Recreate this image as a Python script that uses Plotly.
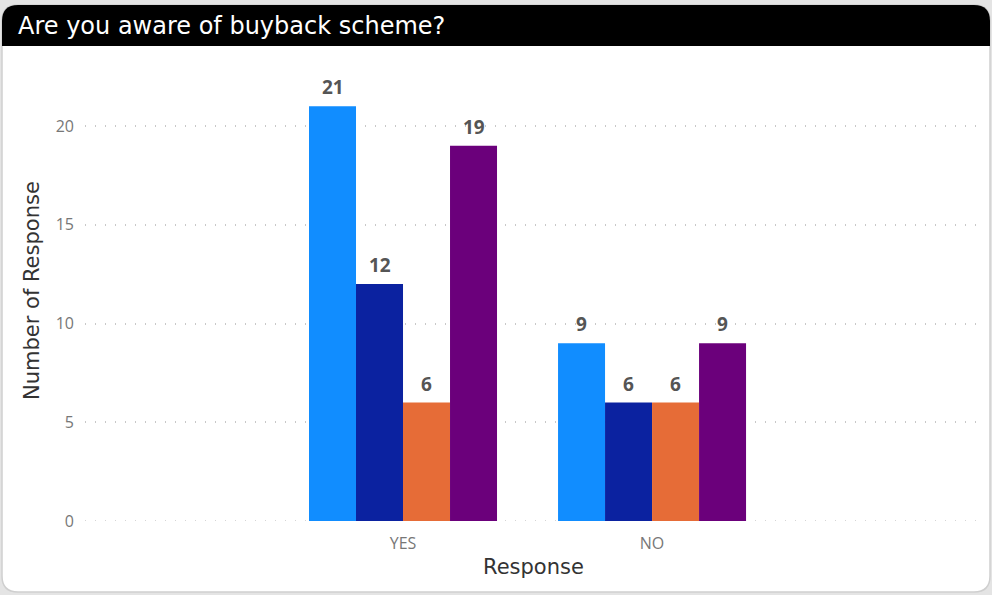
import plotly.graph_objects as go

categories = ["YES", "NO"]
series_names = ["Series 1", "Series 2", "Series 3", "Series 4"]
series_values = [
    [21, 9],
    [12, 6],
    [6, 6],
    [19, 9],
]
series_colors = ["#118DFF", "#0B22A0", "#E66C37", "#6B007B"]
y_ticks = [0, 5, 10, 15, 20]

W, H = 992, 595
BARGAP = 0.245

def px_x(x):
    return x / W

def px_y(y):
    return 1 - y / H

fig = go.Figure()
n = len(series_values)
bw = (1 - BARGAP) / n
for j, (name, vals, col) in enumerate(zip(series_names, series_values, series_colors)):
    fig.add_trace(go.Bar(
        x=categories, y=vals, name=name,
        marker=dict(color=col, line=dict(width=0)),
        hoverinfo="x+y+name",
    ))
    for i, v in enumerate(vals):
        fig.add_annotation(
            x=i + (j - (n - 1) / 2) * bw, y=v, xref="x", yref="y",
            text=str(v), showarrow=False, yanchor="middle", yshift=19,
            font=dict(family="Open Sans", size=19, color="#555555", weight="bold"),
        )

# card and title bar shapes
r = 16
x0, x1 = 2, 990
ty0, ty1 = 5, 46
cy1 = 592
card_path = (
    f"M {px_x(x0)},{px_y(ty0 + r)} "
    f"Q {px_x(x0)},{px_y(ty0)} {px_x(x0 + r)},{px_y(ty0)} "
    f"L {px_x(x1 - r)},{px_y(ty0)} "
    f"Q {px_x(x1)},{px_y(ty0)} {px_x(x1)},{px_y(ty0 + r)} "
    f"L {px_x(x1)},{px_y(cy1 - r)} "
    f"Q {px_x(x1)},{px_y(cy1)} {px_x(x1 - r)},{px_y(cy1)} "
    f"L {px_x(x0 + r)},{px_y(cy1)} "
    f"Q {px_x(x0)},{px_y(cy1)} {px_x(x0)},{px_y(cy1 - r)} Z"
)
title_path = (
    f"M {px_x(x0)},{px_y(ty0 + r)} "
    f"Q {px_x(x0)},{px_y(ty0)} {px_x(x0 + r)},{px_y(ty0)} "
    f"L {px_x(x1 - r)},{px_y(ty0)} "
    f"Q {px_x(x1)},{px_y(ty0)} {px_x(x1)},{px_y(ty0 + r)} "
    f"L {px_x(x1)},{px_y(ty1)} L {px_x(x0)},{px_y(ty1)} Z"
)
fig.add_shape(type="path", path=card_path, xref="paper", yref="paper",
              fillcolor="white", line=dict(color="#cfcfcf", width=1.5), layer="below")
fig.add_shape(type="path", path=title_path, xref="paper", yref="paper",
              fillcolor="black", line=dict(color="black", width=0), layer="below")
# dotted baseline at zero
fig.add_shape(type="line", xref="paper", yref="y", x0=px_x(85), x1=px_x(985), y0=0, y1=0,
              line=dict(color="#c8c8c8", width=1.5, dash="1px,9px"), layer="below")

fig.add_annotation(text="Are you aware of buyback scheme?", xref="paper", yref="paper",
                   x=px_x(16), y=px_y(26), xanchor="left", yanchor="middle",
                   showarrow=False, font=dict(family="DejaVu Sans", size=24, color="white"))
# axis titles
fig.add_annotation(text="Number of Response", xref="paper", yref="paper",
                   x=px_x(32), y=px_y(291), xanchor="center", yanchor="middle", textangle=-90,
                   showarrow=False, font=dict(family="DejaVu Sans", size=21, color="#333333"))
fig.add_annotation(text="Response", xref="paper", yref="paper",
                   x=px_x(533), y=px_y(567), xanchor="center", yanchor="middle",
                   showarrow=False, font=dict(family="DejaVu Sans", size=21, color="#333333"))

fig.update_layout(
    width=W, height=H,
    margin=dict(l=0, r=0, t=0, b=0),
    paper_bgcolor="#e4e4e4",
    plot_bgcolor="rgba(0,0,0,0)",
    showlegend=False,
    barmode="group",
    bargap=BARGAP,
    bargroupgap=0,
    xaxis=dict(
        domain=[px_x(85), px_x(985)],
        range=[-1.277, 2.337],
        showgrid=False, zeroline=False, showline=False,
        ticks="", ticklabelstandoff=11,
        tickfont=dict(family="Open Sans", size=16, color="#777777"),
        automargin=False,
    ),
    yaxis=dict(
        domain=[px_y(521), px_y(86.5)],
        range=[0, 22],
        tickvals=y_ticks,
        showgrid=True, gridcolor="#c8c8c8", gridwidth=1.5, griddash="1px,9px",
        zeroline=False, showline=False, ticks="",
        ticklabelstandoff=10,
        tickfont=dict(family="Open Sans", size=16, color="#777777"),
        automargin=False,
    ),
)

fig.write_html("out.html", post_script="document.body.style.margin='0';",
               config={"displayModeBar": False})
